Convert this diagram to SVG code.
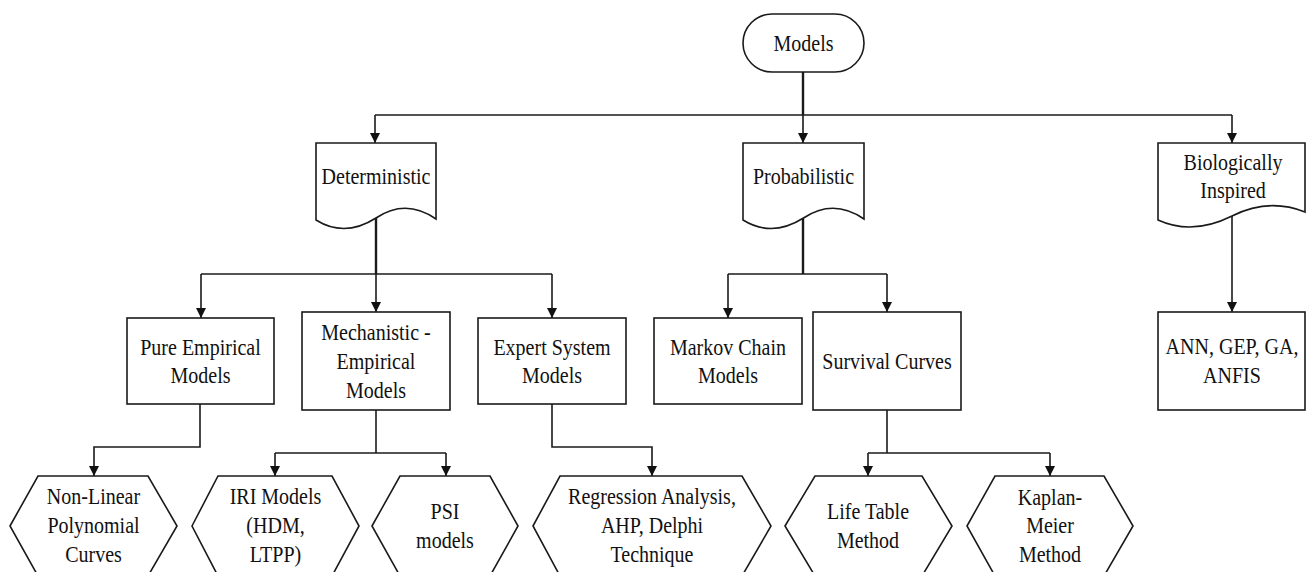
<svg xmlns="http://www.w3.org/2000/svg" width="1306" height="572" viewBox="0 0 1306 572">
<style>
.shape{fill:#fff;stroke:#1a1a1a;stroke-width:1.6}
.lbl{font-family:"Liberation Serif","Times New Roman",serif;font-size:23px;fill:#111;text-anchor:middle}
.conn{fill:none;stroke:#1a1a1a;stroke-width:1.6}
.trunk{fill:none;stroke:#1a1a1a;stroke-width:2.4}
</style>
<defs>
<marker id="arr" markerUnits="userSpaceOnUse" markerWidth="12" markerHeight="14" refX="5" refY="13" orient="auto-start-reverse" viewBox="0 0 10 14">
<path d="M0,0 L10,0 L5,13 Z" fill="#111" transform="rotate(-90 5 7)"/>
</marker>
<marker id="ah" markerUnits="userSpaceOnUse" markerWidth="10" markerHeight="12" refX="10" refY="5" orient="auto" viewBox="0 0 10 10">
<path d="M0,0 L10,5 L0,10 Z" fill="#111"/>
</marker>
</defs>

<g id="connectors">
<path class="trunk" d="M803,72 V115"/>
<path class="conn" d="M375,115 H1232"/>
<path class="conn" d="M375,115 V143" marker-end="url(#ah)"/>
<path class="conn" d="M803,115 V143" marker-end="url(#ah)"/>
<path class="conn" d="M1232,115 V143" marker-end="url(#ah)"/>

<path class="trunk" d="M376,218 V274"/>
<path class="conn" d="M201,274 H552"/>
<path class="conn" d="M201,274 V318" marker-end="url(#ah)"/>
<path class="conn" d="M376,274 V312" marker-end="url(#ah)"/>
<path class="conn" d="M552,274 V318" marker-end="url(#ah)"/>

<path class="trunk" d="M803,218 V274"/>
<path class="conn" d="M728,274 H887"/>
<path class="conn" d="M728,274 V318" marker-end="url(#ah)"/>
<path class="conn" d="M887,274 V312" marker-end="url(#ah)"/>

<path class="conn" d="M1232,216 V312" marker-end="url(#ah)"/>

<path class="conn" d="M200,404 V447 H94 V476" marker-end="url(#ah)"/>

<path class="conn" d="M376,410 V453"/>
<path class="conn" d="M275,453 H446"/>
<path class="conn" d="M275,453 V476" marker-end="url(#ah)"/>
<path class="conn" d="M446,453 V476" marker-end="url(#ah)"/>

<path class="conn" d="M552,404 V447 H652 V476" marker-end="url(#ah)"/>

<path class="conn" d="M887,410 V453"/>
<path class="conn" d="M868,453 H1050"/>
<path class="conn" d="M868,453 V476" marker-end="url(#ah)"/>
<path class="conn" d="M1050,453 V476" marker-end="url(#ah)"/>
</g>

<g id="models">
<rect class="shape" x="743" y="14" width="121" height="58" rx="29" ry="29"/>
<text class="lbl" transform="translate(803.5,0) scale(.87,1)"><tspan x="0" y="51">Models</tspan></text>
</g>

<g id="deterministic">
<path class="shape" d="M316,143 H436 V219 C414.4,204 394,206 376,218 C355.6,231 335.2,232 316,220 Z"/>
<text class="lbl" transform="translate(376,0) scale(.87,1)"><tspan x="0" y="184">Deterministic</tspan></text>
</g>

<g id="probabilistic">
<path class="shape" d="M743,143 H864 V219 C842.2,204 821.6,206 803.5,218 C782.9,231 762.4,232 743,220 Z"/>
<text class="lbl" transform="translate(803.5,0) scale(.87,1)"><tspan x="0" y="184">Probabilistic</tspan></text>
</g>

<g id="biologically">
<path class="shape" d="M1158,143 H1305 V212 C1280,202 1256,204 1232,216 C1206,229 1182,231 1158,220 Z"/>
<text class="lbl" transform="translate(1233,0) scale(.87,1)"><tspan x="0" y="170">Biologically</tspan><tspan x="0" y="198">Inspired</tspan></text>
</g>

<g id="pure-empirical">
<rect class="shape" x="127" y="318" width="147" height="86"/>
<text class="lbl" transform="translate(200.5,0) scale(.87,1)"><tspan x="0" y="355">Pure Empirical</tspan><tspan x="0" y="383">Models</tspan></text>
</g>

<g id="mechanistic">
<rect class="shape" x="302" y="312" width="148" height="98"/>
<text class="lbl" transform="translate(376,0) scale(.87,1)"><tspan x="0" y="340">Mechanistic -</tspan><tspan x="0" y="369">Empirical</tspan><tspan x="0" y="398">Models</tspan></text>
</g>

<g id="expert-system">
<rect class="shape" x="478" y="318" width="148" height="86"/>
<text class="lbl" transform="translate(552,0) scale(.87,1)"><tspan x="0" y="355">Expert System</tspan><tspan x="0" y="383">Models</tspan></text>
</g>

<g id="markov">
<rect class="shape" x="654" y="318" width="148" height="86"/>
<text class="lbl" transform="translate(728,0) scale(.87,1)"><tspan x="0" y="355">Markov Chain</tspan><tspan x="0" y="383">Models</tspan></text>
</g>

<g id="survival">
<rect class="shape" x="813" y="312" width="148" height="98"/>
<text class="lbl" transform="translate(887,0) scale(.87,1)"><tspan x="0" y="369">Survival Curves</tspan></text>
</g>

<g id="ann">
<rect class="shape" x="1158" y="312" width="147" height="98"/>
<text class="lbl" transform="translate(1232,0) scale(.87,1)"><tspan x="0" y="354">ANN, GEP, GA,</tspan><tspan x="0" y="383">ANFIS</tspan></text>
</g>

<g id="non-linear">
<polygon class="shape" points="10,526 38,476 148,476 177,526 148,576 38,576"/>
<text class="lbl" transform="translate(93.5,0) scale(.87,1)"><tspan x="0" y="504">Non-Linear</tspan><tspan x="0" y="533">Polynomial</tspan><tspan x="0" y="562">Curves</tspan></text>
</g>

<g id="iri">
<polygon class="shape" points="192,526 218,476 332,476 359,526 332,576 218,576"/>
<text class="lbl" transform="translate(275.5,0) scale(.87,1)"><tspan x="0" y="504">IRI Models</tspan><tspan x="0" y="533">(HDM,</tspan><tspan x="0" y="562">LTPP)</tspan></text>
</g>

<g id="psi">
<polygon class="shape" points="372,526 400,476 490,476 518,526 490,576 400,576"/>
<text class="lbl" transform="translate(445,0) scale(.87,1)"><tspan x="0" y="519">PSI</tspan><tspan x="0" y="548">models</tspan></text>
</g>

<g id="regression">
<polygon class="shape" points="533,526 560,476 742,476 771,526 742,576 560,576"/>
<text class="lbl" transform="translate(652,0) scale(.87,1)"><tspan x="0" y="504">Regression Analysis,</tspan><tspan x="0" y="533">AHP, Delphi</tspan><tspan x="0" y="562">Technique</tspan></text>
</g>

<g id="life-table">
<polygon class="shape" points="785,526 815,476 922,476 952,526 922,576 815,576"/>
<text class="lbl" transform="translate(868,0) scale(.87,1)"><tspan x="0" y="519">Life Table</tspan><tspan x="0" y="548">Method</tspan></text>
</g>

<g id="kaplan-meier">
<polygon class="shape" points="967,526 995,476 1104,476 1133,526 1104,576 995,576"/>
<text class="lbl" transform="translate(1050,0) scale(.87,1)"><tspan x="0" y="505">Kaplan-</tspan><tspan x="0" y="533">Meier</tspan><tspan x="0" y="562">Method</tspan></text>
</g>
</svg>
